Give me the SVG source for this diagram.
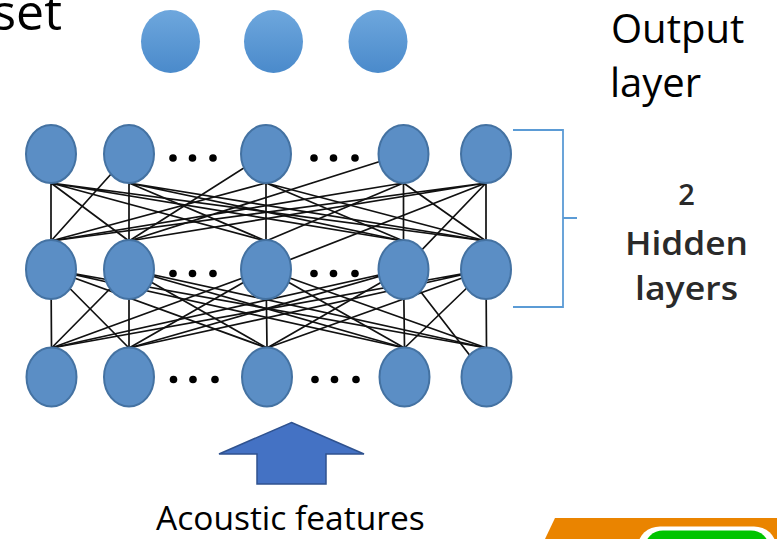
<svg xmlns="http://www.w3.org/2000/svg" width="777" height="539" viewBox="0 0 777 539">
<defs>
<linearGradient id="outGrad" x1="0" y1="0" x2="0" y2="1">
<stop offset="0" stop-color="#6EA7DD"/>
<stop offset="1" stop-color="#4A8ACB"/>
</linearGradient>
</defs>
<style>
.txt{font-family:"Open Sans","Liberation Sans",sans-serif;fill:#000}
.hid{font-family:"Open Sans","Liberation Sans",sans-serif;fill:#2a2a2a;font-weight:600}
.node{fill:#5B8EC5;stroke:#4472A2;stroke-width:2}
.out{fill:url(#outGrad)}
.edge{stroke:#111;stroke-width:1.7;fill:none}
.dot{fill:#000}
.bracket{stroke:#5B9BD5;stroke-width:1.8;fill:none}
</style>
<rect x="0" y="0" width="777" height="539" fill="#fff"/>

<text class="txt" x="62" y="30" font-size="50" text-anchor="end">set</text>

<g id="output-layer">
<ellipse class="out" cx="170.5" cy="41.5" rx="29.5" ry="31.5"/>
<ellipse class="out" cx="273.5" cy="41.5" rx="29.5" ry="31.5"/>
<ellipse class="out" cx="378" cy="41.5" rx="29.5" ry="31.5"/>
</g>

<g id="connectors">
<path class="edge" d="M51,183 L51,241 M51,183 L129,241 M51,183 L266,241 M51,183 L403.5,241 M51,183 L486,241"/>
<path class="edge" d="M129,154 L51,241 M129,183 L129,241 M129,183 L266,241 M129,183 L403.5,241 M129,183 L486,241"/>
<path class="edge" d="M266,183 L51,241 M266,154 L129,241 M266,183 L266,241 M266,183 L403.5,241 M266,183 L486,241"/>
<path class="edge" d="M403.5,183 L51,241 M403.5,154 L129,241 M403.5,183 L266,241 M403.5,183 L403.5,241 M403.5,183 L486,241"/>
<path class="edge" d="M486,183 L51,241 M486,183 L129,241 M486,183 L266,269 M486,183 L403.5,269 M486,183 L486,241"/>
<path class="edge" d="M51,269.5 L51.5,348 M51,269.5 L129,348 M51,269.5 L267,348 M51,269.5 L404.5,348 M51,269.5 L486.5,348"/>
<path class="edge" d="M129,269.5 L51.5,348 M129,269.5 L129,348 M129,269.5 L267,348 M129,269.5 L404.5,348 M129,269.5 L486.5,348"/>
<path class="edge" d="M266,269.5 L51.5,348 M266,269.5 L129,348 M266,269.5 L267,348 M266,269.5 L404.5,348 M266,269.5 L486.5,348"/>
<path class="edge" d="M403.5,269.5 L51.5,348 M403.5,269.5 L129,348 M403.5,269.5 L267,348 M403.5,269.5 L404.5,348 M403.5,269.5 L486.5,377"/>
<path class="edge" d="M486,269.5 L51.5,348 M486,269.5 L129,348 M486,269.5 L267,348 M486,269.5 L404.5,348 M486,269.5 L486.5,348"/>
</g>

<g id="hidden-layer-1">
<ellipse class="node" cx="51" cy="154" rx="25" ry="29"/>
<ellipse class="node" cx="129" cy="154" rx="25" ry="29"/>
<ellipse class="node" cx="266" cy="154" rx="25" ry="29"/>
<ellipse class="node" cx="403.5" cy="154" rx="25" ry="29"/>
<ellipse class="node" cx="486" cy="154" rx="25" ry="29"/>
<circle class="dot" cx="173" cy="158" r="3.8"/><circle class="dot" cx="192.5" cy="158" r="3.8"/><circle class="dot" cx="213" cy="158" r="3.8"/>
<circle class="dot" cx="314" cy="158" r="3.8"/><circle class="dot" cx="333.5" cy="158" r="3.8"/><circle class="dot" cx="355" cy="158" r="3.8"/>
</g>

<g id="hidden-layer-2">
<ellipse class="node" cx="51" cy="269.5" rx="25" ry="29.5"/>
<ellipse class="node" cx="129" cy="269.5" rx="25" ry="29.5"/>
<ellipse class="node" cx="266" cy="269.5" rx="25" ry="29.5"/>
<ellipse class="node" cx="403.5" cy="269.5" rx="25" ry="29.5"/>
<ellipse class="node" cx="486" cy="269.5" rx="25" ry="29.5"/>
<circle class="dot" cx="173" cy="273.5" r="3.8"/><circle class="dot" cx="192.5" cy="273.5" r="3.8"/><circle class="dot" cx="213" cy="273.5" r="3.8"/>
<circle class="dot" cx="314" cy="273.5" r="3.8"/><circle class="dot" cx="333.5" cy="273.5" r="3.8"/><circle class="dot" cx="355" cy="273.5" r="3.8"/>
</g>

<g id="input-layer">
<ellipse class="node" cx="51.5" cy="377" rx="25" ry="29.5"/>
<ellipse class="node" cx="129" cy="377" rx="25" ry="29.5"/>
<ellipse class="node" cx="267" cy="377" rx="25" ry="29.5"/>
<ellipse class="node" cx="404.5" cy="377" rx="25" ry="29.5"/>
<ellipse class="node" cx="486.5" cy="377" rx="25" ry="29.5"/>
<circle class="dot" cx="173.5" cy="379.5" r="3.8"/><circle class="dot" cx="193" cy="379.5" r="3.8"/><circle class="dot" cx="215" cy="379.5" r="3.8"/>
<circle class="dot" cx="315" cy="379.5" r="3.8"/><circle class="dot" cx="334.5" cy="379.5" r="3.8"/><circle class="dot" cx="356" cy="379.5" r="3.8"/>
</g>

<g id="output-label">
<text class="txt" x="611" y="43" font-size="40">Output</text>
<text class="txt" x="610" y="97" font-size="40">layer</text>
</g>

<g id="hidden-bracket">
<path class="bracket" d="M513,130 H563 V307 H513 M563,218 H577"/>
</g>

<g id="hidden-label">
<text class="hid" x="686.5" y="205" font-size="29" text-anchor="middle">2</text>
<text class="hid" x="686.5" y="255" font-size="32" text-anchor="middle" textLength="123" lengthAdjust="spacingAndGlyphs">Hidden</text>
<text class="hid" x="686.5" y="300" font-size="32" text-anchor="middle" textLength="103" lengthAdjust="spacingAndGlyphs">layers</text>
</g>

<g id="input-arrow">
<polygon points="291.5,422.5 364,454 326,454 326,484 257,484 257,454 219,454" fill="#4472C4" stroke="#2F528F" stroke-width="1.5"/>
</g>

<g id="input-label">
<text class="txt" x="156" y="530" font-size="33.5">Acoustic features</text>
</g>

<g id="corner-shape">
<polygon points="555,518 777,518 777,539 545,539" fill="#EA8400"/>
<rect x="638" y="526.5" width="138" height="40" rx="22" fill="#fff"/>
<rect x="645" y="530.5" width="124" height="34" rx="18" fill="#00C400"/>
</g>
</svg>
